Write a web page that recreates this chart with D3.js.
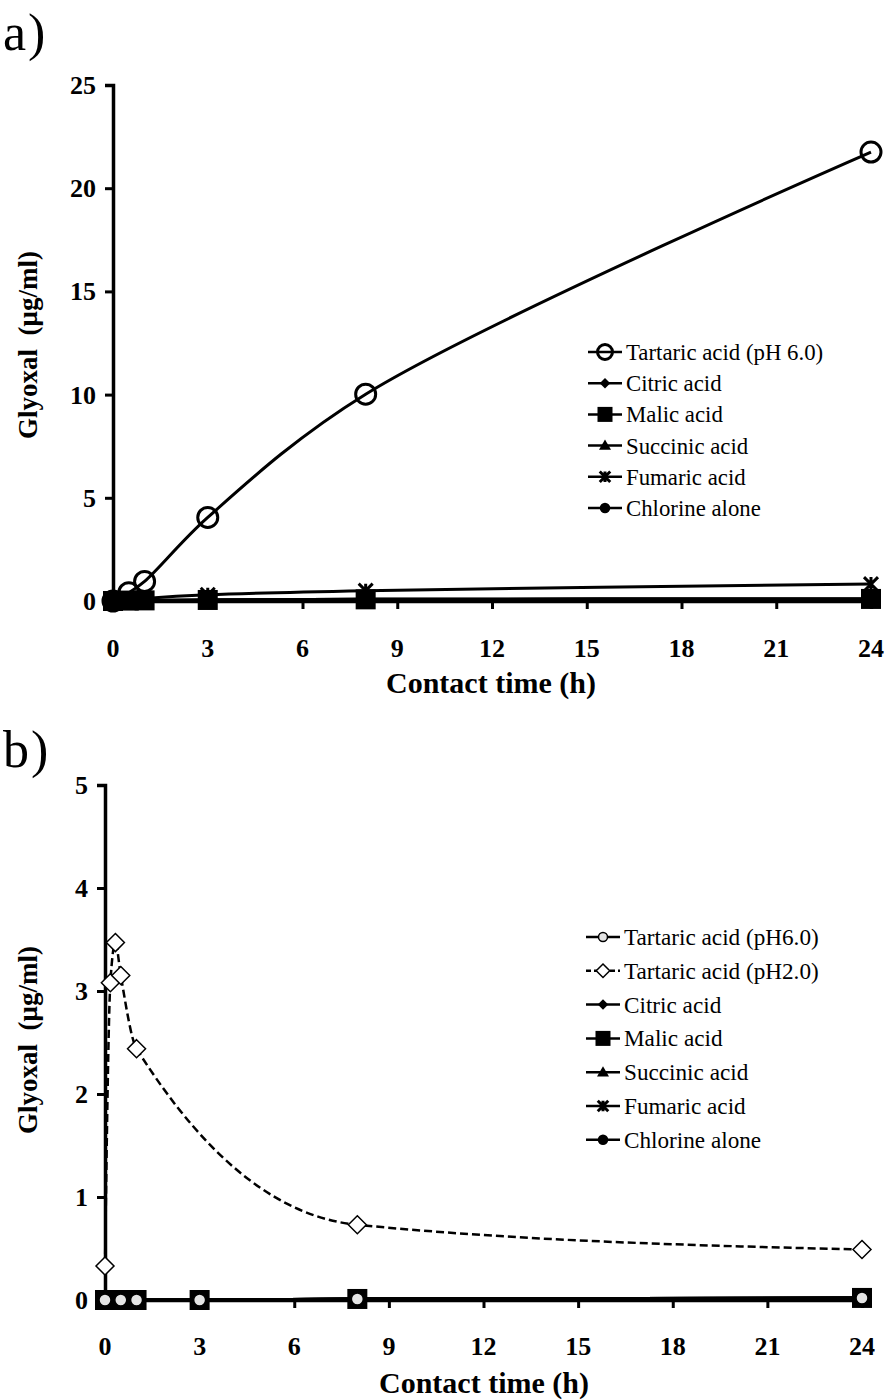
<!DOCTYPE html>
<html>
<head>
<meta charset="utf-8">
<script src="https://cdn.jsdelivr.net/npm/d3@7"></script>
<style>
  body { margin: 0; background: #fff; }
  svg { display: block; }
</style>
</head>
<body>
<div id="chart"></div>
<script>
// ---- data, panel a ----
const timesA = [0, 0.5, 1, 3, 8, 24];
const tartaricA = [0, 0.4, 0.95, 4.05, 10.02, 21.75];
const citricA = [0, 0.02, 0.03, 0.05, 0.08, 0.1];
const malicA = [0, 0.02, 0.03, 0.05, 0.08, 0.1];
const succinicA = [0, 0.02, 0.03, 0.05, 0.08, 0.1];
const fumaricA = [0, 0.05, 0.12, 0.3, 0.5, 0.82];
const chlorineA = [0, 0.01, 0.02, 0.03, 0.04, 0.05];

// ---- data, panel b ----
const timesB = [0, 0.5, 1, 3, 8, 24];
const timesPh2 = [0, 0.17, 0.33, 0.5, 1, 8, 24];
const tartaricPh6B = [0, 0, 0, 0, 0.01, 0.02];
const tartaricPh2B = [0.33, 3.08, 3.47, 3.15, 2.44, 0.73, 0.49];
const citricB = [0, 0, 0, 0, 0.01, 0.02];
const malicB = [0, 0, 0, 0, 0.01, 0.02];
const succinicB = [0, 0, 0, 0, 0.01, 0.02];
const fumaricB = [0, 0, 0, 0, 0.01, 0.02];
const chlorineB = [0, 0, 0, 0, 0.01, 0.02];

const xTicks = [0, 3, 6, 9, 12, 15, 18, 21, 24];
const yTicksA = [0, 5, 10, 15, 20, 25];
const yTicksB = [0, 1, 2, 3, 4, 5];

const serif = "'Liberation Serif', 'Times New Roman', serif";

const svg = d3.select("#chart").append("svg")
    .attr("width", 889)
    .attr("height", 1400);

// marker drawing
function marker(g, type, x, y, s) {
    if (type === "openCircle") {
        g.append("circle").attr("cx", x).attr("cy", y).attr("r", 10 * s)
            .attr("fill", "none").attr("stroke", "#000").attr("stroke-width", 3);
    } else if (type === "grayCircle") {
        g.append("circle").attr("cx", x).attr("cy", y).attr("r", 6 * s)
            .attr("fill", "#e4e4e4").attr("stroke", "#000").attr("stroke-width", 1.5);
    } else if (type === "openDiamond") {
        const h = 9 * s;
        g.append("path").attr("d", `M${x},${y - h}L${x + h},${y}L${x},${y + h}L${x - h},${y}Z`)
            .attr("fill", "#fff").attr("stroke", "#000").attr("stroke-width", 1.5);
    } else if (type === "diamond") {
        const h = 7 * s;
        g.append("path").attr("d", `M${x},${y - h}L${x + h},${y}L${x},${y + h}L${x - h},${y}Z`)
            .attr("fill", "#000");
    } else if (type === "square") {
        const h = 10 * s;
        g.append("rect").attr("x", x - h).attr("y", y - h).attr("width", 2 * h).attr("height", 2 * h)
            .attr("fill", "#000");
    } else if (type === "triangle") {
        const h = 8 * s;
        g.append("path").attr("d", `M${x},${y - h}L${x + h},${y + h * 0.7}L${x - h},${y + h * 0.7}Z`)
            .attr("fill", "#000");
    } else if (type === "star") {
        const h = 7 * s;
        g.append("path")
            .attr("d", `M${x - h},${y - h}L${x + h},${y + h}M${x + h},${y - h}L${x - h},${y + h}M${x},${y - h}L${x},${y + h}`)
            .attr("stroke", "#000").attr("stroke-width", 3).attr("fill", "none");
    } else if (type === "dot") {
        g.append("circle").attr("cx", x).attr("cy", y).attr("r", 7 * s).attr("fill", "#000");
    }
}

function drawPanel(cfg) {
    const { label, labelY, xRange, yRange, yDomain, yTicks, series, drawOrder, curve,
        legendX, legendY0, legendStep, legendFont, tickLabelY, titleY, titleX, yTitleY } = cfg;

    const x = d3.scaleLinear().domain([0, 24]).range(xRange);
    const y = d3.scaleLinear().domain(yDomain).range(yRange);
    const g = svg.append("g");

    // panel label
    g.append("text").attr("x", 3).attr("y", labelY)
        .attr("font-family", serif).attr("font-size", 52).attr("letter-spacing", 2).text(label);

    // series lines
    drawOrder.forEach(i => {
        const s = series[i];
        const pts = s.times.map((t, k) => [x(t), y(s.values[k])]);
        g.append("path")
            .attr("d", d3.line().curve(curve)(pts))
            .attr("fill", "none")
            .attr("stroke", "#000")
            .attr("stroke-width", s.dashed ? 2.5 : 3)
            .attr("stroke-dasharray", s.dashed ? "8,4" : null);
    });

    // axes
    const xAxis = d3.axisBottom(x).tickValues(xTicks).tickSize(8).tickFormat("");
    g.append("g").attr("transform", `translate(0,${yRange[0]})`).call(xAxis)
        .call(a => a.select(".domain").attr("stroke-width", 3.5))
        .call(a => a.selectAll(".tick line").attr("stroke-width", 3));
    const yAxis = d3.axisLeft(y).tickValues(yTicks).tickSize(8).tickFormat("");
    g.append("g").attr("transform", `translate(${xRange[0]},0)`).call(yAxis)
        .call(a => a.select(".domain").attr("stroke-width", 3.5))
        .call(a => a.selectAll(".tick line").attr("stroke-width", 3));

    // markers on top
    drawOrder.forEach(i => {
        const s = series[i];
        s.times.forEach((t, k) => marker(g, s.marker, x(t), y(s.values[k]), 1));
    });

    // tick labels
    g.selectAll(".xl").data(xTicks).enter().append("text")
        .attr("x", d => x(d)).attr("y", tickLabelY)
        .attr("text-anchor", "middle")
        .attr("font-family", serif).attr("font-weight", "bold").attr("font-size", 26)
        .text(d => d);
    g.selectAll(".yl").data(yTicks).enter().append("text")
        .attr("x", xRange[0] - 17).attr("y", d => y(d) + 9)
        .attr("text-anchor", "end")
        .attr("font-family", serif).attr("font-weight", "bold").attr("font-size", 26)
        .text(d => d);

    // axis titles
    g.append("text").attr("x", titleX).attr("y", titleY)
        .attr("text-anchor", "middle")
        .attr("font-family", serif).attr("font-weight", "bold").attr("font-size", 30)
        .text("Contact time (h)");
    g.append("text")
        .attr("transform", `translate(37,${yTitleY}) rotate(-90)`)
        .attr("text-anchor", "middle")
        .attr("font-family", serif).attr("font-weight", "bold").attr("font-size", 27)
        .attr("xml:space", "preserve")
        .text("Glyoxal  (\u03bcg/ml)");

    // legend
    series.forEach((s, i) => {
        const ly = legendY0 + i * legendStep;
        g.append("line").attr("x1", legendX).attr("x2", legendX + 34)
            .attr("y1", ly).attr("y2", ly)
            .attr("stroke", "#000").attr("stroke-width", 2.5)
            .attr("stroke-dasharray", s.dashed ? "5,3" : null);
        marker(g, s.marker, legendX + 17, ly, 0.75);
        g.append("text").attr("x", legendX + 38).attr("y", ly + 8)
            .attr("font-family", serif).attr("font-size", legendFont)
            .text(s.name);
    });
}

drawPanel({
    label: "a)", labelY: 50, curve: d3.curveCatmullRom.alpha(0.5),
    xRange: [113, 871], yRange: [601, 85], yDomain: [0, 25], yTicks: yTicksA,
    series: [
        { name: "Tartaric acid (pH 6.0)", times: timesA, values: tartaricA, marker: "openCircle" },
        { name: "Citric acid", times: timesA, values: citricA, marker: "diamond" },
        { name: "Malic acid", times: timesA, values: malicA, marker: "square" },
        { name: "Succinic acid", times: timesA, values: succinicA, marker: "triangle" },
        { name: "Fumaric acid", times: timesA, values: fumaricA, marker: "star" },
        { name: "Chlorine alone", times: timesA, values: chlorineA, marker: "dot" }
    ],
    drawOrder: [5, 3, 1, 2, 4, 0],
    legendX: 588, legendY0: 352, legendStep: 31.2, legendFont: 22.8,
    tickLabelY: 657, titleX: 491, titleY: 693, yTitleY: 345
});

drawPanel({
    label: "b)", labelY: 767, curve: d3.curveMonotoneX,
    xRange: [105, 862], yRange: [1300, 785], yDomain: [0, 5], yTicks: yTicksB,
    series: [
        { name: "Tartaric acid (pH6.0)", times: timesB, values: tartaricPh6B, marker: "grayCircle" },
        { name: "Tartaric acid (pH2.0)", times: timesPh2, values: tartaricPh2B, marker: "openDiamond", dashed: true },
        { name: "Citric acid", times: timesB, values: citricB, marker: "diamond" },
        { name: "Malic acid", times: timesB, values: malicB, marker: "square" },
        { name: "Succinic acid", times: timesB, values: succinicB, marker: "triangle" },
        { name: "Fumaric acid", times: timesB, values: fumaricB, marker: "star" },
        { name: "Chlorine alone", times: timesB, values: chlorineB, marker: "dot" }
    ],
    drawOrder: [1, 6, 4, 2, 5, 3, 0],
    legendX: 586, legendY0: 937, legendStep: 33.8, legendFont: 23.2,
    tickLabelY: 1355, titleX: 484, titleY: 1393, yTitleY: 1040
});
</script>
</body>
</html>
